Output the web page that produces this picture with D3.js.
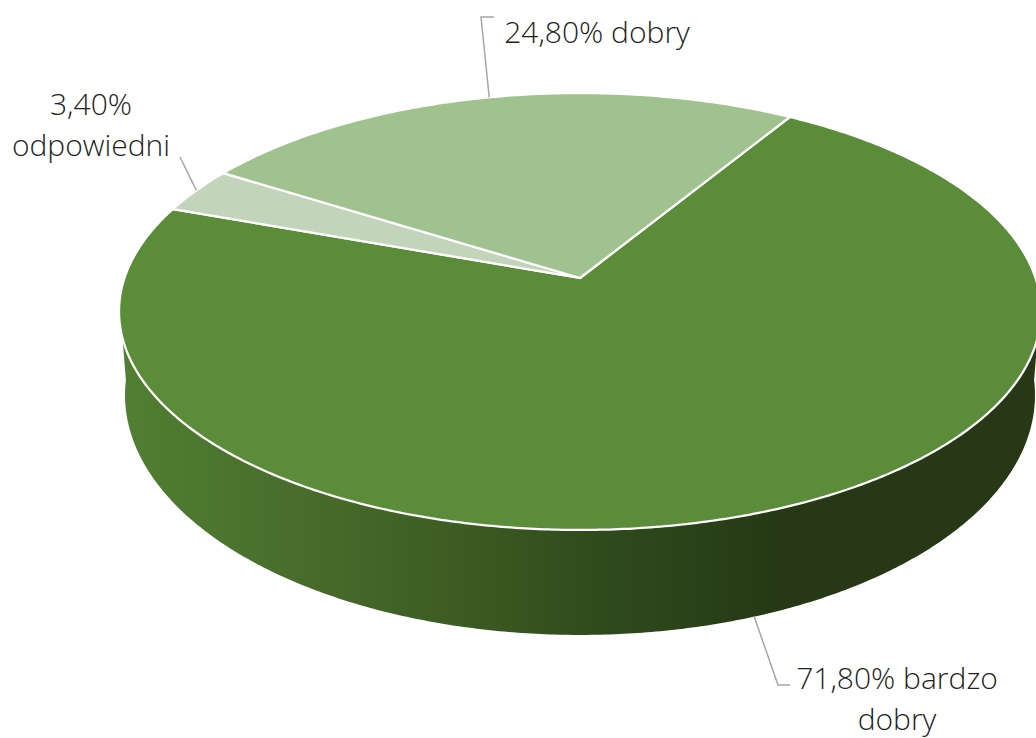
<!DOCTYPE html>
<html><head><meta charset="utf-8">
<script src="https://cdn.jsdelivr.net/npm/d3@7"></script>
<style>html,body{margin:0;padding:0;background:#fff;overflow:hidden}svg{display:block}
text{font-family:"Open Sans",sans-serif;font-weight:300;font-size:30px;fill:#1f1f1f}</style>
</head><body><svg id="c" width="1036" height="738"></svg>
<script>
const categories = ["bardzo dobry", "odpowiedni", "dobry"];
const values = [71.8, 3.4, 24.8];
const labelLines = [["71,80% bardzo", "dobry"], ["3,40%", "odpowiedni"], ["24,80% dobry"]];
const colors = ["#5b8c3a", "#c2d5bb", "#a0c28f"];
const sideStops = [[0, "#517f33"], [0.24, "#466829"], [0.415, "#385720"], [0.52, "#2f4b1c"], [0.63, "#2a4119"], [0.72, "#263815"], [1, "#263815"]];

const K = -0.1533, rad = Math.PI / 180;
const topRim = {x0: 580, r: 455.5, b: 278, a: 170.7};
const botRim = {x0: 580, r: 449.6, b: 358.2, a: 179.4};
const project = (p, t) => {
  const u = Math.sin(t), v = -Math.cos(t), d = 1 + K * v;
  return [p.x0 + p.r * u / d, (p.b + p.a * v) / d];
};
const arcPts = (p, a0, a1) => {
  const n = Math.max(2, Math.ceil(Math.abs(a1 - a0) / (0.5 * rad)));
  return d3.range(n + 1).map(i => project(p, a0 + (a1 - a0) * i / n));
};
const line = d3.line();
const start = 31.4 * rad;
const slices = d3.pie().sort(null).startAngle(start).endAngle(start + 2 * Math.PI)(values);

const svg = d3.select("#c");
const grad = svg.append("defs").append("linearGradient").attr("id", "side");
grad.selectAll("stop").data(sideStops).join("stop")
  .attr("offset", d => d[0]).attr("stop-color", d => d[1]);

// side wall: lower front of the top rim, then back along the bottom rim
svg.append("path")
  .attr("d", line(arcPts(topRim, 254.3 * rad, 105.7 * rad)
      .concat(arcPts(botRim, 95.3 * rad, 264.7 * rad))) + "Z")
  .attr("fill", "url(#side)");

// top slices
svg.selectAll("path.slice").data(slices).join("path").attr("class", "slice")
  .attr("d", d => line([[topRim.x0, topRim.b], ...arcPts(topRim, d.startAngle, d.endAngle)]) + "Z")
  .attr("fill", (d, i) => colors[i])
  .attr("stroke", "#fff").attr("stroke-width", 2.25).attr("stroke-linejoin", "round");

// leaders anchored on each slice's mid angle
const mid = d => (d.startAngle + d.endAngle) / 2;
const leaders = [
  [project(botRim, mid(slices[0])), [778, 685], [790, 685]],
  [project(topRim, mid(slices[1])), [180, 157]],
  [project(topRim, mid(slices[2])), [481, 17], [494, 17]]
];
svg.selectAll("path.leader").data(leaders).join("path").attr("class", "leader")
  .attr("d", d => line(d)).attr("fill", "none").attr("stroke", "#a6a6a6").attr("stroke-width", 1.5);

// labels
const labelPos = [{x: 897, y: 689}, {x: 91, y: 115}, {x: 597, y: 43}];
const lh = 41;
svg.selectAll("text").data(labelLines).join("text")
  .attr("text-anchor", "middle")
  .attr("transform", (d, i) => `translate(${labelPos[i].x},${labelPos[i].y})`)
  .selectAll("tspan").data(d => d).join("tspan")
  .attr("x", 0).attr("y", (d, i) => i * lh).text(d => d);
</script></body></html>
